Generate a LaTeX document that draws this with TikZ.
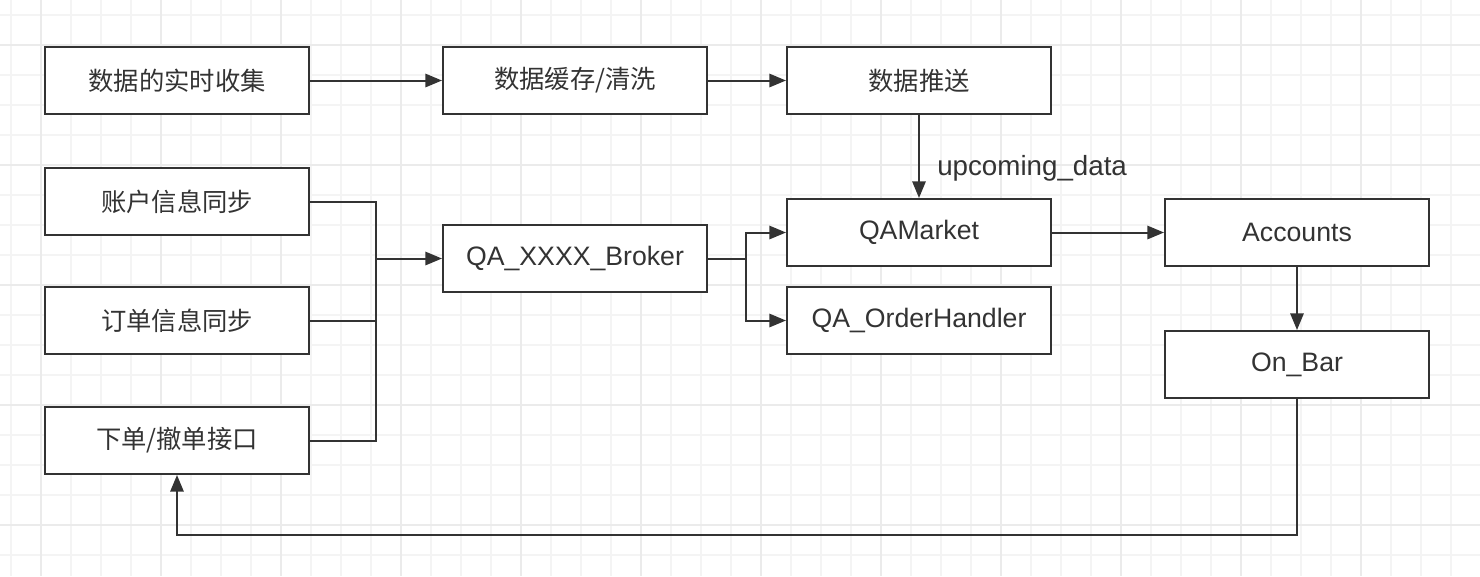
\documentclass[tikz,border=0pt]{standalone}
\usepackage{fontspec}
\setmainfont{Liberation Sans}
\newfontfamily\cjk{Noto Sans CJK SC}
\usetikzlibrary{arrows.meta}
\definecolor{ink}{HTML}{333333}
\definecolor{gridminor}{HTML}{F4F4F4}
\definecolor{gridmajor}{HTML}{EBEBEB}
\tikzset{
  box/.style={draw=ink, line width=1.5pt, fill=white, minimum width=198pt, minimum height=50.25pt, inner sep=0pt, text=ink},
  cn/.style={box, font=\cjk\fontsize{19}{22}\selectfont},
  en/.style={box, font=\fontsize{20}{24}\selectfont},
  conn/.style={draw=ink, line width=1.5pt},
  arr/.style={conn, -{Triangle[length=12.5pt, width=10pt]}},
}
\begin{document}
\begin{tikzpicture}[x=0.75pt, y=-0.75pt]
\useasboundingbox (0,0) rectangle (1480,576);
\fill[white] (0,0) rectangle (1480,576);
% grid
\foreach \gx in {11,41,...,1480} \draw[gridminor, line width=1.2pt] (\gx,0) -- (\gx,576);
\foreach \gy in {15,45,...,576} \draw[gridminor, line width=1.2pt] (0,\gy) -- (1480,\gy);
\foreach \gx in {41,161,...,1480} \draw[gridmajor, line width=1.5pt] (\gx,0) -- (\gx,576);
\foreach \gy in {45,165,...,576} \draw[gridmajor, line width=1.5pt] (0,\gy) -- (1480,\gy);
% nodes
\node[cn] (A1) at (177,80.5) {数据的实时收集};
\node[cn] (A2) at (575,80.5) {数据缓存/清洗};
\node[cn] (A3) at (919,80.5) {数据推送};
\node[cn] (B1) at (177,201.5) {账户信息同步};
\node[cn] (B2) at (177,320.5) {订单信息同步};
\node[cn] (B3) at (177,440.5) {下单/撤单接口};
\node[en] (BR) at (575,258.5) {QA\_XXXX\_Broker};
\node[en] (QM) at (919,232.5) {QAMarket};
\node[en] (OH) at (919,320.5) {QA\_OrderHandler};
\node[en] (AC) at (1297,232.5) {Accounts};
\node[en] (OB) at (1297,364.5) {On\_Bar};
\node[anchor=west, text=ink, font=\fontsize{20.8}{24}\selectfont, inner sep=0pt] (lbl) at (937,168) {upcoming\_data};
% junction coordinates
\coordinate (j1) at (376,258.5);
\coordinate (jb) at (376,440.5);
\coordinate (j2) at (746,258.5);
\coordinate (r1) at (1297,535);
\coordinate (r2) at (177,535);
% connectors
\draw[arr] (A1) -- (A2);
\draw[arr] (A2) -- (A3);
\draw[arr] (A3) -- (QM);
\draw[conn] (B1.east) -| (jb) -- (B3.east);
\draw[conn] (B2.east) -- (B2.east -| jb);
\draw[arr] (j1) -- (BR.west);
\draw[conn] (BR.east) -- (j2);
\draw[arr] (j2) |- (QM.west);
\draw[arr] (j2) |- (OH.west);
\draw[arr] (QM) -- (AC);
\draw[arr] (AC) -- (OB);
\draw[arr] (OB.south) -- (r1) -- (r2) -- (B3.south);
\end{tikzpicture}
\end{document}
